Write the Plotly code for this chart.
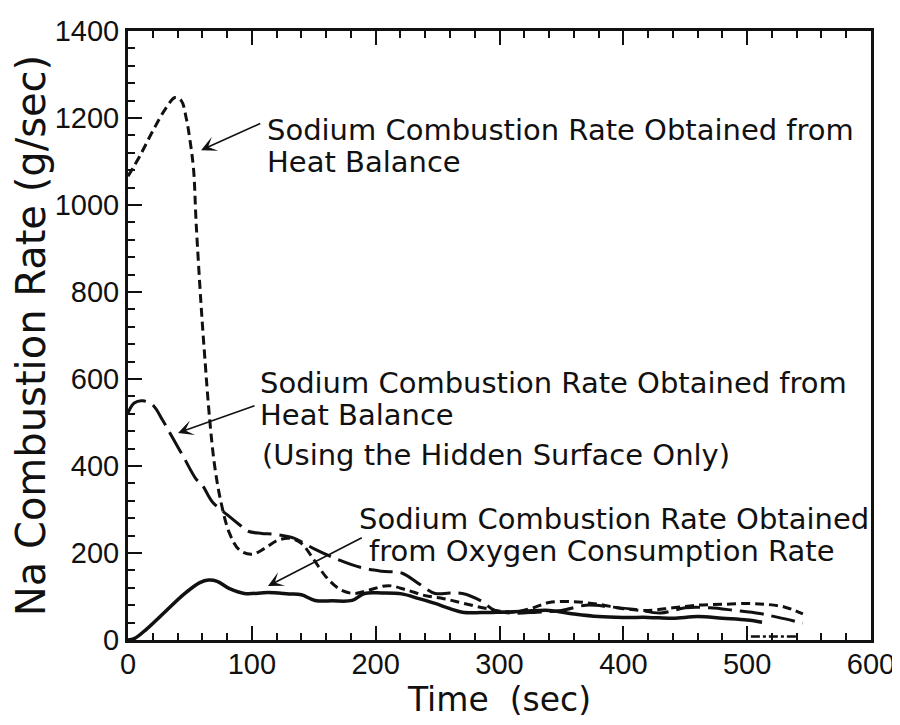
import plotly.graph_objects as go

# --- Data ---
heat_x = [0, 10, 20, 30, 38, 43, 47, 50, 53, 55, 59, 62, 66, 70, 75, 82, 90, 100, 110, 120, 130, 140, 150, 160, 172, 183,
          195, 210, 225, 240, 255, 270, 290, 310, 325, 340, 360, 380, 400, 420, 440, 460, 480, 500, 515, 530, 545]
heat_y = [1066, 1115, 1170, 1220, 1247, 1240, 1200, 1150, 1080, 960, 771, 650, 506, 400, 318, 245, 207, 197, 210, 228,
          234, 222, 185, 145, 115, 107, 115, 125, 115, 102, 95, 85, 72, 64, 72, 86, 88, 82, 72, 68, 74, 80, 82, 84, 82, 76, 60]

hidden_x = [0, 5, 12, 20, 28, 35, 45, 55, 60, 68, 80, 90, 97, 108, 118, 134, 150, 167, 189, 205, 221, 235, 248, 260,
            270, 285, 296, 310, 330, 350, 370, 390, 410, 430, 450, 470, 490, 510, 525, 545]
hidden_y = [522, 545, 550, 540, 505, 470, 420, 370, 356, 318, 288, 265, 250, 245, 243, 234, 210, 188, 166, 158, 154, 129,
            107, 108, 107, 90, 68, 62, 64, 68, 80, 76, 70, 62, 74, 74, 68, 61, 52, 39]

oxygen_x = [0, 5, 15, 30, 45, 58, 65, 72, 82, 94, 113, 130, 140, 151, 165, 181, 191, 205, 221, 235, 248, 260, 270, 285,
            301, 320, 340, 360, 380, 400, 420, 440, 460, 480, 500, 512]
oxygen_y = [0, 3, 25, 65, 105, 132, 138, 135, 118, 107, 109, 106, 104, 91, 90, 91, 107, 108, 106, 95, 84, 72, 64, 63,
            64, 66, 68, 60, 54, 52, 52, 50, 54, 50, 46, 41]

tail_x = [503, 540]
tail_y = [8, 8]

x_ticks = [0, 100, 200, 300, 400, 500, 600]
y_ticks = [0, 200, 400, 600, 800, 1000, 1200, 1400]

fig = go.Figure()
line_col = "#111111"
fig.add_trace(go.Scatter(x=heat_x, y=heat_y, mode="lines", line=dict(color=line_col, width=3, dash="9px,5px"),
                         line_shape="spline", showlegend=False))
fig.add_trace(go.Scatter(x=hidden_x, y=hidden_y, mode="lines", line=dict(color=line_col, width=3, dash="24px,8px"),
                         line_shape="spline", showlegend=False))
fig.add_trace(go.Scatter(x=oxygen_x, y=oxygen_y, mode="lines", line=dict(color=line_col, width=3.5),
                         line_shape="spline", showlegend=False))
fig.add_trace(go.Scatter(x=tail_x, y=tail_y, mode="lines", line=dict(color=line_col, width=2.5, dash="dashdot"),
                         showlegend=False))

txt_font = dict(family="DejaVu Sans", size=29, color="#111111")

def label(x, y, text):
    fig.add_annotation(x=x, y=y, xref="x", yref="y", text=text, showarrow=False,
                       xanchor="left", yanchor="middle", font=txt_font)

def arrow(x_head, y_head, x_tail, y_tail):
    fig.add_annotation(x=x_head, y=y_head, ax=x_tail, ay=y_tail, xref="x", yref="y", axref="x", ayref="y",
                       text="", showarrow=True, arrowhead=3, arrowsize=1.6, arrowwidth=1.6, arrowcolor="#111111")

label(110.7, 1172, "Sodium Combustion Rate Obtained from")
label(110.7, 1099, "Heat Balance")
arrow(59, 1126, 108, 1189)

label(105, 591, "Sodium Combustion Rate Obtained from")
label(105, 517, "Heat Balance")
label(106.6, 425, "(Using the Hidden Surface Only)")
arrow(40.4, 476, 103.4, 540)

label(185, 278, "Sodium Combustion Rate Obtained")
label(193, 204, "from Oxygen Consumption Rate")
arrow(113, 124, 190, 237)

tick_font = dict(family="Liberation Sans Narrow, Liberation Sans, Arial", size=29, color="#111111")

fig.update_layout(
    width=900, height=725,
    margin=dict(l=120, r=37, t=23, b=93),
    paper_bgcolor="white", plot_bgcolor="white",
    xaxis=dict(range=[0, 600], tickvals=x_ticks, ticktext=[str(v) for v in x_ticks], automargin=False,
               showgrid=False, zeroline=False, showline=True, linecolor="#111111", linewidth=3,
               mirror="ticks", ticks="inside", ticklen=14, tickwidth=2, tickcolor="#111111",
               minor=dict(dtick=20, ticks="inside", ticklen=7, tickwidth=2, tickcolor="#111111", showgrid=False),
               tickfont=tick_font, ticklabelstandoff=-4,
               title=dict(text="Time  (sec)", font=dict(family="DejaVu Sans", size=33, color="#111111"), standoff=0)),
    yaxis=dict(range=[0, 1400], tickvals=y_ticks, ticktext=[str(v) for v in y_ticks], automargin=False,
               showgrid=False, zeroline=False, showline=True, linecolor="#111111", linewidth=3,
               mirror=True, ticks="inside", ticklen=14, tickwidth=2, tickcolor="#111111",
               minor=dict(dtick=40, ticks="inside", ticklen=7, tickwidth=2, tickcolor="#111111", showgrid=False),
               tickfont=tick_font, ticklabelstandoff=0,
               title=dict(text="Na Combustion Rate (g/sec)", font=dict(family="DejaVu Sans", size=40, color="#111111"),
                          standoff=0)),
)

fig.write_html("out.html")
